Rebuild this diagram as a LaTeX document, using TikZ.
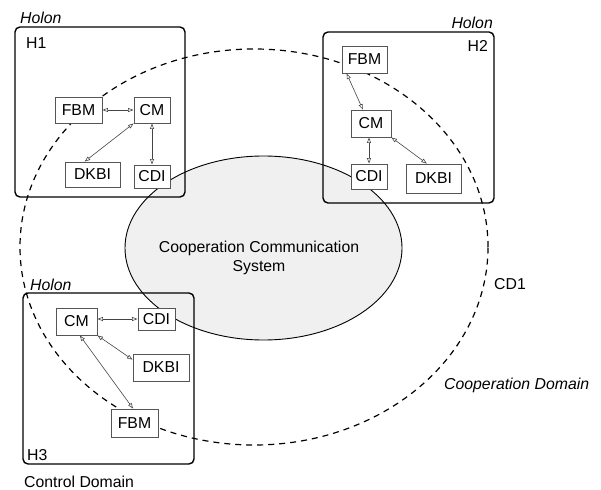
\documentclass[tikz,border=0pt]{standalone}
\usepackage{fontspec}
\setmainfont{Liberation Sans}
\usetikzlibrary{shapes.geometric,arrows.meta,calc}
\definecolor{ccsfill}{HTML}{F0F0F0}
\definecolor{boxline}{HTML}{555555}
\definecolor{linkline}{HTML}{444444}
\begin{document}
\begin{tikzpicture}[x=1bp,y=-1bp,
  every node/.style={font=\fontsize{15.8bp}{19bp}\selectfont, inner sep=0pt},
  holonbox/.style={draw=black, line width=1.4bp, rounded corners=5bp},
  modulebox/.style={draw=boxline, line width=0.9bp, fill=white},
  linkarrow/.style={draw=linkline, line width=0.6bp,
    {Triangle[open,length=5.5bp,width=4bp]}-{Triangle[open,length=5.5bp,width=4bp]}},
  coopline/.style={draw=black, line width=1.2bp, dash pattern=on 6bp off 5bp},
  italiclabel/.style={font=\fontsize{15.8bp}{19bp}\selectfont\itshape}]
\useasboundingbox (0,0) rectangle (601,490);

% cooperation domain CD1
\node[coopline, ellipse, minimum width=468bp, minimum height=396bp] (cd1) at (254,247) {};
% cooperation communication system
\node[ellipse, draw=black, line width=0.9bp, fill=ccsfill,
      minimum width=277bp, minimum height=184bp] (ccs) at (263.5,248) {};
\node[align=center] (ccslabel) at (259,257.5) {Cooperation Communication\\System};

% holon boxes
\node[holonbox, minimum width=170bp, minimum height=170bp] (h1) at (100,112) {};
\node[holonbox, minimum width=171bp, minimum height=171bp] (h2) at (408.5,117.5) {};
\node[holonbox, minimum width=171bp, minimum height=171bp] (h3) at (108.5,378.5) {};

\node[italiclabel, anchor=west] (holon1) at (20,18) {Holon};
\node[italiclabel, anchor=east] (holon2) at (493,23) {Holon};
\node[italiclabel, anchor=west] (holon3) at (30,285) {Holon};
\node[anchor=west] (h1lbl) at (26,43) {H1};
\node[anchor=east] (h2lbl) at (488,46) {H2};
\node[anchor=west] (h3lbl) at (27,455) {H3};
\node[anchor=west] (cdom) at (24,482) {Control Domain};
\node[anchor=west] (cd1lbl) at (494,284) {CD1};
\node[italiclabel, anchor=west] (coopdom) at (444,385) {Cooperation Domain};

% holon H1
\node[modulebox, minimum width=47bp, minimum height=26bp] (fbm1) at (78.5,110) {FBM};
\node[modulebox, minimum width=36bp, minimum height=26bp] (cm1) at (152,110) {CM};
\node[modulebox, minimum width=55bp, minimum height=25bp] (dkbi1) at (92.5,174.5) {DKBI};
\node[modulebox, minimum width=36bp, minimum height=23bp] (cdi1) at (152,176.5) {CDI};
\draw[linkarrow] (fbm1.east) -- (cm1.west);
\draw[linkarrow] (cm1.south) -- (cdi1.north);
\draw[linkarrow] (cm1.south west) -- ($(dkbi1.north west)!0.36!(dkbi1.north east)$);

% holon H2
\node[modulebox, minimum width=45bp, minimum height=27bp] (fbm2) at (364.5,59.5) {FBM};
\node[modulebox, minimum width=40bp, minimum height=27bp] (cm2) at (371,123.5) {CM};
\node[modulebox, minimum width=36bp, minimum height=25bp] (cdi2) at (369,176.5) {CDI};
\node[modulebox, minimum width=55bp, minimum height=29bp] (dkbi2) at (433.5,178.5) {DKBI};
\draw[linkarrow] ($(fbm2.south west)!0.11!(fbm2.south east)$) -- ($(cm2.north west)!0.3!(cm2.north east)$);
\draw[linkarrow] (cdi2.north |- cm2.south) -- (cdi2.north);
\draw[linkarrow] (cm2.south east) -- ($(dkbi2.north west)!0.38!(dkbi2.north east)$);

% holon H3
\node[modulebox, minimum width=41bp, minimum height=27bp] (cm3) at (76.5,321.5) {CM};
\node[modulebox, minimum width=37bp, minimum height=22bp] (cdi3) at (156.5,319) {CDI};
\node[modulebox, minimum width=56bp, minimum height=27bp] (dkbi3) at (161,367.5) {DKBI};
\node[modulebox, minimum width=47bp, minimum height=28bp] (fbm3) at (134.5,423) {FBM};
\draw[linkarrow] (cm3.east |- cdi3.west) -- (cdi3.west);
\draw[linkarrow] (cm3.south east) -- ($(dkbi3.north west)!0.22!(dkbi3.south west)$);
\draw[linkarrow] ($(cm3.south west)!0.58!(cm3.south east)$) -- ($(fbm3.north west)!0.47!(fbm3.north east)$);
\end{tikzpicture}
\end{document}
